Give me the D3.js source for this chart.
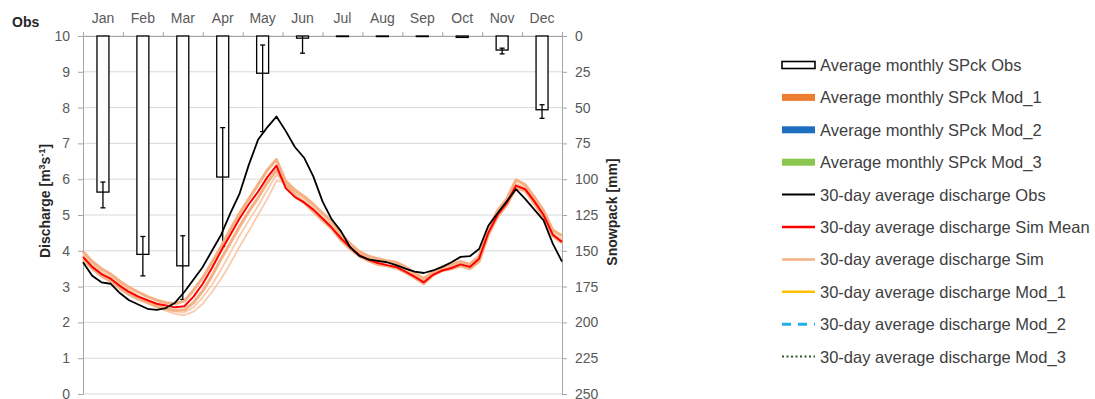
<!DOCTYPE html>
<html>
<head>
<meta charset="utf-8">
<script src="https://cdn.jsdelivr.net/npm/d3@7"></script>
<style>
  html, body { margin: 0; padding: 0; background: #fff; }
  svg { display: block; font-family: "Liberation Sans", Arial, sans-serif; }
</style>
</head>
<body>
<svg id="chart" width="1095" height="399"></svg>
<script>
// Month categories and observed monthly snowpack (mm) with error range
const months = ["Jan","Feb","Mar","Apr","May","Jun","Jul","Aug","Sep","Oct","Nov","Dec"];
const snowObs = [109, 152.5, 160.5, 98.5, 26, 1.5, 0.4, 0.4, 0.4, 1, 9.8, 51.5];
const snowLo  = [102, 140, 139.5, 64, 6.3, 0, null, null, null, null, 8.5, 48];
const snowHi  = [120, 167.5, 184, 147, 66.8, 12, null, null, null, null, 12.5, 57.5];

// Day of year for the discharge series
const days = [1,8,15,22,29,36,43,50,57,64,71,78,85,92,99,106,113,120,127,134,141,148,155,162,
  169,176,183,190,197,204,211,218,225,232,239,246,253,260,267,274,281,288,295,302,309,316,
  323,330,337,344,351,358,365];

// 30-day average discharge (m3/s)
const qObs = [3.68,3.3,3.12,3.08,2.82,2.62,2.5,2.38,2.35,2.4,2.55,2.85,3.2,3.55,4.0,4.45,5.05,
  5.6,6.4,7.1,7.45,7.75,7.35,6.9,6.6,6.08,5.38,4.88,4.55,4.1,3.86,3.76,3.72,3.68,3.6,3.5,3.42,
  3.38,3.45,3.55,3.68,3.83,3.85,4.05,4.7,5.05,5.38,5.72,5.45,5.15,4.85,4.2,3.7];
const qSimMean = [3.83,3.55,3.35,3.22,3.02,2.85,2.72,2.62,2.52,2.47,2.42,2.45,2.72,3.08,3.52,
  4.0,4.45,4.9,5.3,5.65,6.05,6.38,5.75,5.5,5.35,5.15,4.9,4.65,4.35,4.1,3.88,3.75,3.66,3.6,3.55,
  3.42,3.28,3.12,3.33,3.45,3.52,3.62,3.55,3.78,4.5,5.0,5.33,5.82,5.72,5.38,5.0,4.45,4.25];
const qSim1 = [3.98,3.7,3.5,3.35,3.15,2.98,2.85,2.72,2.62,2.55,2.52,2.6,2.9,3.25,3.68,4.12,4.6,
  5.05,5.45,5.85,6.25,6.55,5.95,5.7,5.52,5.3,5.05,4.82,4.48,4.2,3.98,3.85,3.78,3.72,3.68,3.55,
  3.38,3.22,3.42,3.55,3.62,3.7,3.62,3.85,4.62,5.12,5.45,5.98,5.85,5.5,5.12,4.58,4.42];
const qSim2 = [3.78,3.5,3.3,3.15,2.95,2.78,2.65,2.55,2.45,2.38,2.33,2.35,2.55,2.88,3.3,3.78,
  4.22,4.68,5.1,5.48,5.9,6.25,5.85,5.55,5.35,5.1,4.85,4.62,4.3,4.05,3.85,3.72,3.62,3.58,3.52,
  3.4,3.25,3.08,3.32,3.45,3.5,3.58,3.5,3.7,4.45,4.95,5.28,5.75,5.68,5.32,4.95,4.42,4.22];
const qSim3 = [3.9,3.62,3.42,3.28,3.08,2.9,2.75,2.62,2.5,2.4,2.3,2.28,2.42,2.7,3.05,3.48,3.95,
  4.42,4.85,5.25,5.7,6.12,5.9,5.62,5.45,5.2,4.92,4.72,4.38,4.1,3.9,3.78,3.7,3.66,3.62,3.48,
  3.32,3.15,3.36,3.48,3.55,3.64,3.56,3.76,4.55,5.05,5.38,5.88,5.78,5.42,5.05,4.5,4.32];
const qSim4 = [3.85,3.58,3.38,3.22,3.02,2.85,2.7,2.55,2.42,2.32,2.24,2.2,2.3,2.52,2.85,3.22,
  3.65,4.12,4.55,5.0,5.45,5.95,5.92,5.65,5.48,5.22,4.95,4.75,4.4,4.12,3.92,3.8,3.72,3.68,3.64,
  3.5,3.34,3.18,3.38,3.5,3.56,3.66,3.58,3.78,4.52,5.02,5.35,5.85,5.75,5.4,5.02,4.48,4.3];

// Legend entries
const legendLabels = [
  "Average monthly SPck Obs",
  "Average monthly SPck Mod_1",
  "Average monthly SPck Mod_2",
  "Average monthly SPck Mod_3",
  "30-day average discharge Obs",
  "30-day average discharge Sim Mean",
  "30-day average discharge Sim",
  "30-day average discharge Mod_1",
  "30-day average discharge Mod_2",
  "30-day average discharge Mod_3"
];

const svg = d3.select("#chart");
const L = 83, R = 562, T = 36, B = 394;

const x = d3.scaleLinear().domain([1, 365]).range([L, R]);
const xm = d3.scaleBand().domain(months).range([L, R]).paddingInner(0.7).paddingOuter(0.35);
const xb = d3.scaleLinear().domain([0, 12]).range([L, R]);
const yQ = d3.scaleLinear().domain([0, 10]).range([B, T]);
const yS = d3.scaleLinear().domain([0, 250]).range([T, B]);

// Horizontal gridlines
svg.append("g").selectAll("line").data(yQ.ticks(10)).join("line")
  .attr("x1", L).attr("x2", R)
  .attr("y1", d => yQ(d)).attr("y2", d => yQ(d))
  .attr("stroke", "#d9d9d9").attr("stroke-width", 1);

// Left axis (discharge)
const axL = svg.append("g").attr("transform", `translate(${L},0)`)
  .call(d3.axisLeft(yQ).ticks(10).tickSize(5).tickPadding(8));
// Right axis (snowpack, inverted)
const axR = svg.append("g").attr("transform", `translate(${R},0)`)
  .call(d3.axisRight(yS).tickValues(d3.range(0, 251, 25)).tickSize(5).tickPadding(8));
// Top month axis
const axTop = svg.append("g").attr("transform", `translate(0,${T})`)
  .call(d3.axisTop(xb).ticks(12).tickSize(4).tickFormat(""));
const axMonths = svg.append("g").attr("transform", `translate(0,${T})`)
  .call(d3.axisTop(xm).tickSize(0).tickPadding(13));
axMonths.select(".domain").remove();

[axL, axR, axTop, axMonths].forEach(g => {
  g.selectAll(".domain").attr("stroke", "#a6a6a6");
  g.selectAll(".tick line").attr("stroke", "#a6a6a6");
  g.selectAll("text").attr("fill", "#595959").style("font-size", "14px")
    .style("font-family", "'Liberation Sans', Arial, sans-serif");
});

// Snowpack bars hanging from the top
const bars = svg.append("g");
bars.selectAll("rect").data(months).join("rect")
  .attr("x", (m) => xm(m))
  .attr("y", yS(0))
  .attr("width", xm.bandwidth())
  .attr("height", (m, i) => yS(snowObs[i]) - yS(0))
  .attr("fill", "#fff").attr("stroke", "#000").attr("stroke-width", 1.3);

// Error bars
const errIdx = d3.range(12).filter(i => snowLo[i] !== null);
const eb = svg.append("g").attr("stroke", "#000").attr("stroke-width", 1.3);
errIdx.forEach(i => {
  const cx = xm(months[i]) + xm.bandwidth() / 2;
  eb.append("line").attr("x1", cx).attr("x2", cx)
    .attr("y1", yS(snowLo[i])).attr("y2", yS(snowHi[i]));
  [snowLo[i], snowHi[i]].forEach(v => {
    if (v > 0.5) eb.append("line").attr("x1", cx - 2.5).attr("x2", cx + 2.5)
      .attr("y1", yS(v)).attr("y2", yS(v));
  });
});

// Discharge lines
const line = d3.line().x((d, i) => x(days[i])).y(d => yQ(d)).curve(d3.curveLinear);
const lines = svg.append("g").attr("fill", "none").attr("stroke-linejoin", "round");
[qSim4, qSim3].forEach(s => lines.append("path").attr("d", line(s))
  .attr("stroke", "#f8cbad").attr("stroke-width", 1.8));
[qSim1, qSim2].forEach(s => lines.append("path").attr("d", line(s))
  .attr("stroke", "#f4b183").attr("stroke-width", 3));
lines.append("path").attr("d", line(qSimMean)).attr("stroke", "#ff0000").attr("stroke-width", 2);
lines.append("path").attr("d", line(qObs)).attr("stroke", "#000").attr("stroke-width", 1.8);

// Titles
svg.append("text").attr("x", 12).attr("y", 27).text("Obs")
  .attr("font-weight", "bold").attr("font-size", 14).attr("fill", "#262626");

const tl = svg.append("text").attr("transform", "translate(50,201) rotate(-90)")
  .attr("text-anchor", "middle").attr("font-weight", "bold").attr("font-size", 14)
  .attr("fill", "#262626");
tl.append("tspan").text("Discharge [m");
tl.append("tspan").text("3").attr("font-size", 9).attr("dy", -5);
tl.append("tspan").text("s").attr("dy", 5);
tl.append("tspan").text("-1").attr("font-size", 9).attr("dy", -5);
tl.append("tspan").text("]").attr("dy", 5);

svg.append("text").attr("transform", "translate(617,212) rotate(-90)")
  .attr("text-anchor", "middle").attr("font-weight", "bold").attr("font-size", 14)
  .attr("fill", "#262626").text("Snowpack [mm]");

// Legend
const lg = svg.append("g");
const sx0 = 782, sx1 = 815, ly0 = 65, ldy = 32.4;
legendLabels.forEach((lab, i) => {
  const yy = ly0 + i * ldy;
  const g = lg.append("g");
  if (i === 0) {
    g.append("rect").attr("x", sx0).attr("y", yy - 3.5).attr("width", sx1 - sx0).attr("height", 7)
      .attr("fill", "#fff").attr("stroke", "#000").attr("stroke-width", 1.6);
  } else if (i <= 3) {
    const c = ["#ed7d31", "#1f6fc0", "#8cc751"][i - 1];
    g.append("rect").attr("x", sx0).attr("y", yy - 3.5).attr("width", sx1 - sx0).attr("height", 7)
      .attr("fill", c);
  } else {
    const st = [
      { c: "#000", w: 2, d: null },
      { c: "#ff0000", w: 2.5, d: null },
      { c: "#f4b183", w: 2.5, d: null },
      { c: "#ffc000", w: 2.5, d: null },
      { c: "#1fb0ee", w: 3, d: "9,7" },
      { c: "#375623", w: 2, d: "2,2.5" }
    ][i - 4];
    g.append("line").attr("x1", sx0).attr("x2", sx1).attr("y1", yy).attr("y2", yy)
      .attr("stroke", st.c).attr("stroke-width", st.w)
      .attr("stroke-dasharray", st.d);
  }
  g.append("text").attr("x", 820).attr("y", yy).attr("dy", "0.36em")
    .attr("font-size", 16.5).attr("fill", "#404040").text(lab);
});
</script>
</body>
</html>
